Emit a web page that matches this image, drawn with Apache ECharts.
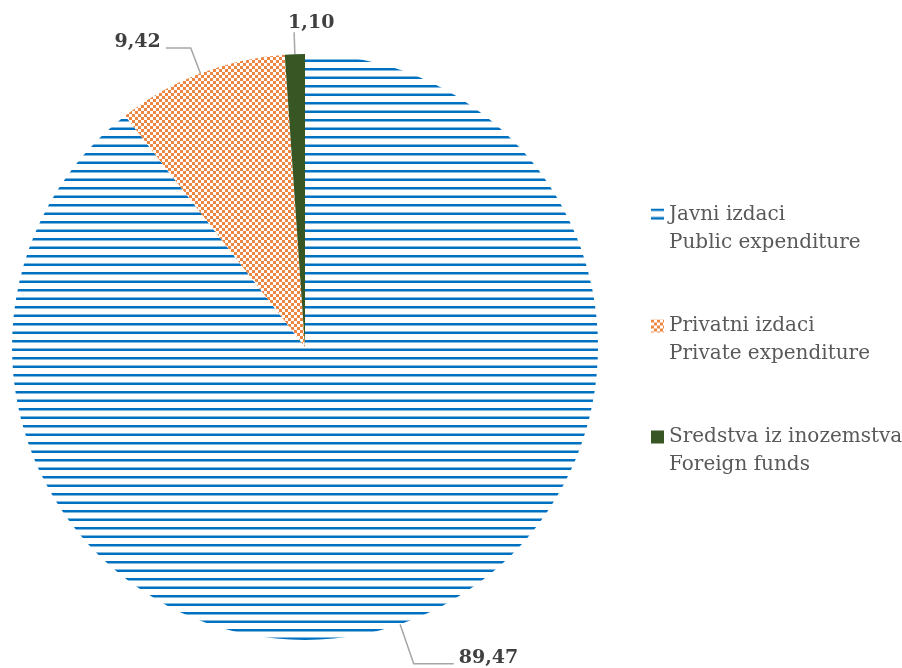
<!DOCTYPE html>
<html>
<head>
<meta charset="utf-8">
<script src="https://cdn.jsdelivr.net/npm/echarts@6/dist/echarts.min.js"></script>
<style>
html,body{margin:0;padding:0;background:#fff;}
#chart{width:902px;height:668px;}
</style>
</head>
<body>
<div id="chart"></div>
<script>
// ---- data ----
var categories = [
  'Javni izdaci\nPublic expenditure',
  'Privatni izdaci\nPrivate expenditure',
  'Sredstva iz inozemstva\nForeign funds'
];
var values = [89.47, 9.42, 1.10];

// ---- patterns ----
function linePattern() {
  var c = document.createElement('canvas');
  c.width = 8; c.height = 17;
  var g = c.getContext('2d');
  g.fillStyle = '#ffffff'; g.fillRect(0, 0, 8, 17);
  g.fillStyle = '#0070C0';
  g.fillRect(0, 0, 8, 2.5);
  g.fillRect(0, 8.5, 8, 2.5);
  return c;
}
function checkPattern() {
  var c = document.createElement('canvas');
  c.width = 6; c.height = 6;
  var g = c.getContext('2d');
  g.fillStyle = '#ffffff'; g.fillRect(0, 0, 6, 6);
  g.fillStyle = '#EE8540';
  g.fillRect(0, 0, 3, 3);
  g.fillRect(3, 3, 3, 3);
  return c;
}
var colors = [
  { image: linePattern(), repeat: 'repeat' },
  { image: checkPattern(), repeat: 'repeat' },
  '#375623'
];

var chart = echarts.init(document.getElementById('chart'), null, { renderer: 'canvas' });

var labelLines = [
  { length: 42, length2: 40 },
  { length: 27, length2: 25 },
  { length: 22, length2: 0 }
];

var data = categories.map(function (name, i) {
  return {
    name: name,
    value: values[i],
    itemStyle: { color: colors[i] },
    labelLine: labelLines[i]
  };
});

chart.setOption({
  animation: false,
  backgroundColor: '#ffffff',
  legend: {
    orient: 'vertical',
    left: 646,
    top: 168,
    itemWidth: 13,
    itemHeight: 13,
    itemGap: 27,
    icon: 'rect',
    formatter: function (n) { return '\n' + n; },
    textStyle: {
      fontFamily: 'DejaVu Serif',
      fontSize: 20,
      lineHeight: 28,
      color: '#595959'
    }
  },
  series: [{
    type: 'pie',
    center: [305, 347],
    radius: 293,
    startAngle: 90,
    clockwise: true,
    avoidLabelOverlap: false,
    data: data,
    itemStyle: { borderWidth: 0 },
    label: {
      show: true,
      position: 'outside',
      fontFamily: 'DejaVu Serif',
      fontWeight: 'bold',
      fontSize: 19,
      color: '#404040',
      formatter: function (p) { return p.value.toFixed(2).replace('.', ','); }
    },
    labelLine: {
      show: true,
      lineStyle: { color: '#A6A6A6', width: 1.5 }
    },
    labelLayout: function (p) {
      if (p.dataIndex === 2) {
        return { align: 'left', dx: -1, dy: -9 };
      }
      return { dy: -6 };
    },
    emphasis: { disabled: true }
  }]
});
</script>
</body>
</html>
